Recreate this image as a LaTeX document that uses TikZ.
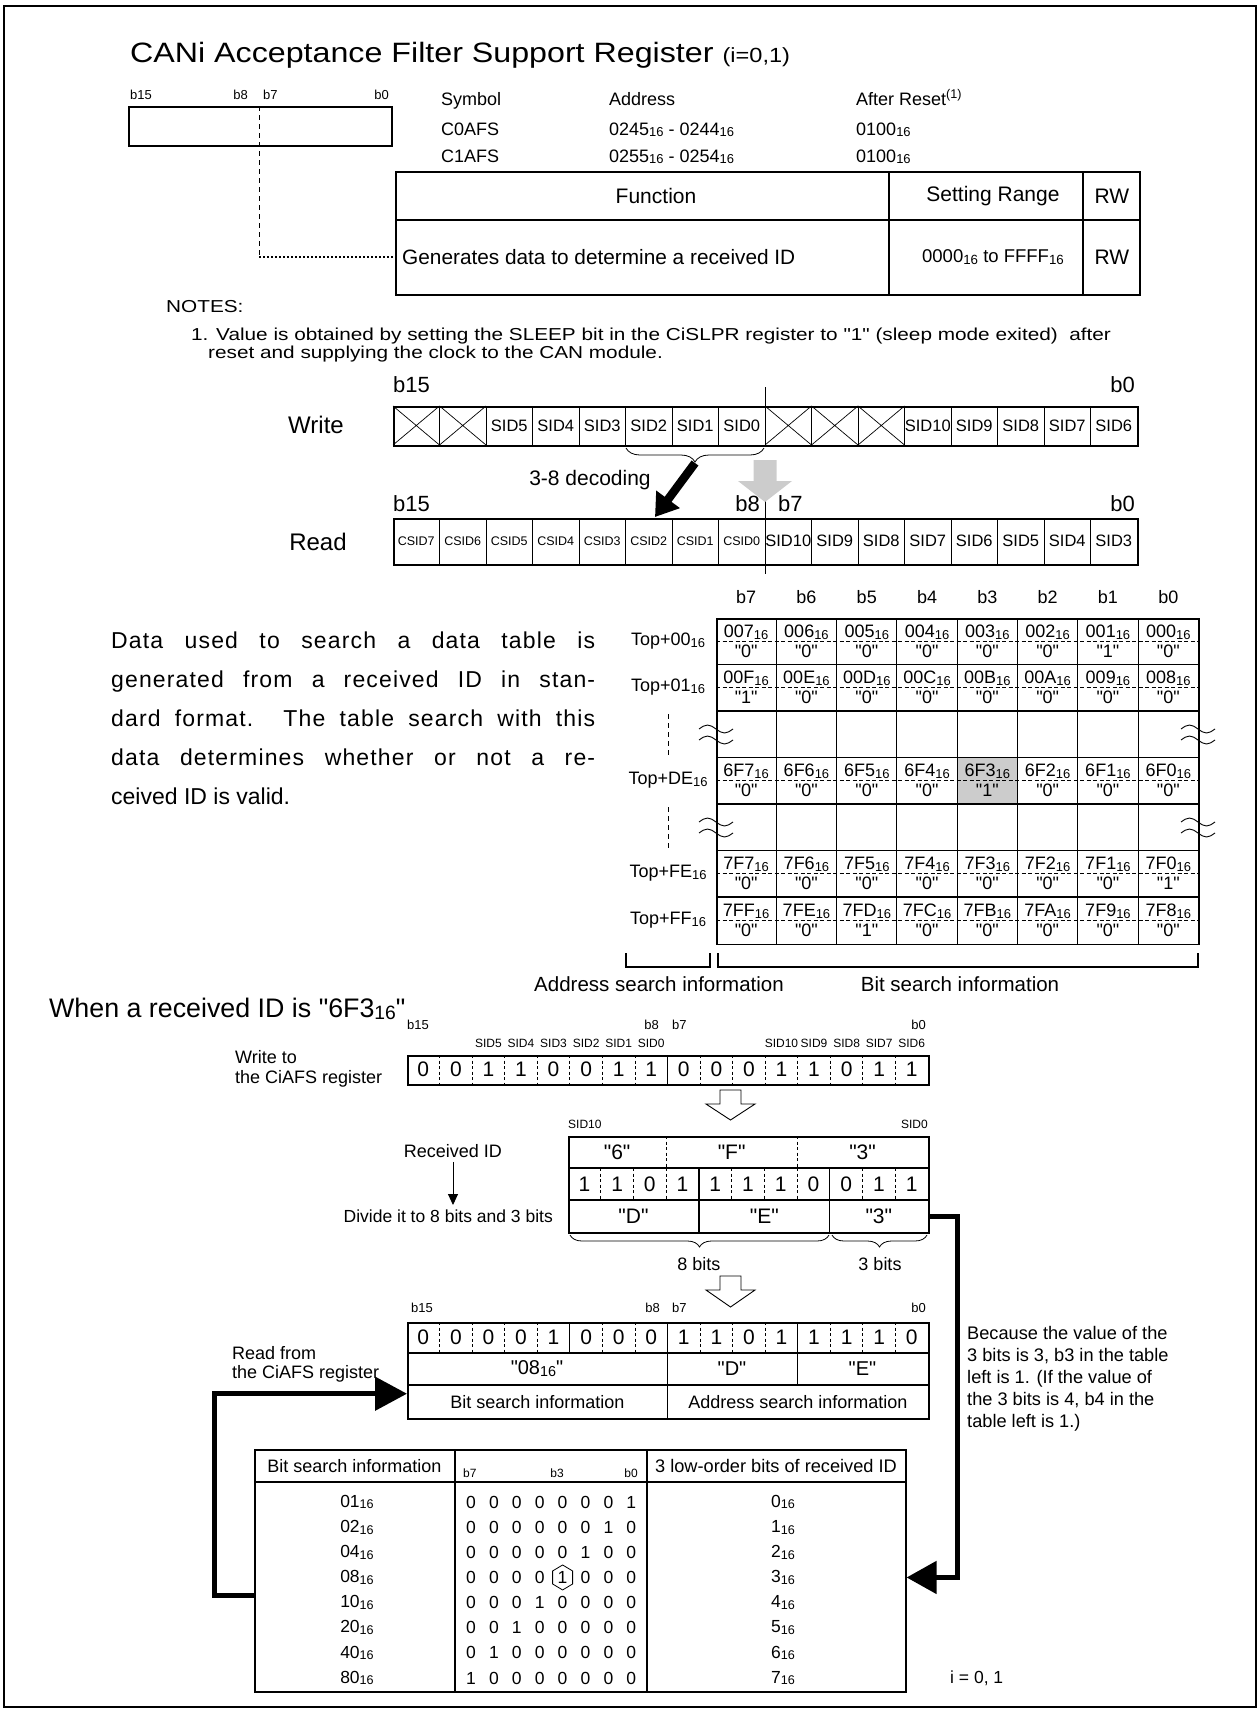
\documentclass[tikz,border=0pt]{standalone}
\usepackage{fontspec}
\usepackage{graphicx}
\setmainfont{Liberation Sans}[Ligatures=TeXOff]
\newfontfamily\titlefont{Liberation Sans}[FakeStretch=1.15,Ligatures=TeXOff]
\newfontfamily\widefont{Liberation Sans}[FakeStretch=1.2,Ligatures=TeXOff]
\usetikzlibrary{arrows.meta,decorations.pathreplacing,calc}
\newcommand{\sxt}{\raisebox{-0.1em}{\scalebox{0.72}{16}}}
\newcommand{\wv}[2]{\draw[line width=0.9pt] ({#1-17},#2) sin ({#1-8.5},{#2-4}) cos (#1,#2) sin ({#1+8.5},{#2+4}) cos ({#1+17},#2);}
\newcommand{\drow}[3]{%
  \foreach \h/\v [count=\c from 0] in {#3} {
    \node[fs=18] (#2h\c) at ({716+(\c+0.5)*60.3},{#1+14}) {\h\sxt};
    \node[fs=18] (#2v\c) at ({716+(\c+0.5)*60.3},{#1+33}) {"\v"};
  }
  \draw[line width=0.9pt,dash pattern=on 4pt off 2.5pt] (716,{#1+23.25}) -- (1198.4,{#1+23.25});
}
\tikzset{
  fs/.style={font=\fontsize{#1}{#1}\selectfont},
  wfs/.style={font=\widefont\fontsize{#1}{#1}\selectfont},
  regout/.style={draw,line width=1.8pt,anchor=north west},
  cellln/.style={line width=0.9pt},
  dln/.style={line width=0.8pt,dash pattern=on 3pt off 2.5pt},
  bigarrow/.style={line width=5pt,-{Triangle[length=32pt,width=33pt]}},
  openarrow/.style={draw,line width=0.9pt,fill=white},
}
\begin{document}
\begin{tikzpicture}[x=1pt,y=-1pt,every node/.style={inner sep=0pt}]
\useasboundingbox (0,0) rectangle (1260,1711);
\draw[line width=2.5pt] (4,6) rectangle (1256,1707);

% ---------- title ----------
\node[font=\titlefont\fontsize{28}{28}\selectfont,anchor=base west] (title) at (130,62) {CANi Acceptance Filter Support Register {\fontsize{20.5}{20}\selectfont(i=0,1)}};

% ---------- small register ----------
\node[regout,line width=1.5pt,minimum width=263pt,minimum height=39pt] (sreg) at (128,106) {};
\node[fs=13,anchor=base west] (sb15) at (130,99) {b15};
\node[fs=13,anchor=base east] (sb8) at (248,99) {b8};
\node[fs=13,anchor=base west] (sb7) at (263,99) {b7};
\node[fs=13,anchor=base east] (sb0) at (389,99) {b0};
\coordinate (smid) at (259,106);

% ---------- symbol / address ----------
\node[fs=18,anchor=base west] (hsym) at (441,105) {Symbol};
\node[fs=18,anchor=base west] (hadr) at (609,105) {Address};
\node[fs=18,anchor=base west] (hrst) at (856,105) {After Reset\textsuperscript{(1)}};
\node[fs=18,anchor=base west] (sy0) at (441,135) {C0AFS};
\node[fs=18,anchor=base west] (ad0) at (609,135) {0245\sxt{} - 0244\sxt};
\node[fs=18,anchor=base west] (rs0) at (856,135) {0100\sxt};
\node[fs=18,anchor=base west] (sy1) at (441,162) {C1AFS};
\node[fs=18,anchor=base west] (ad1) at (609,162) {0255\sxt{} - 0254\sxt};
\node[fs=18,anchor=base west] (rs1) at (856,162) {0100\sxt};

% ---------- function table ----------
\node[regout,minimum width=744pt,minimum height=123pt] (ftab) at (395,171) {};
\draw[line width=1.3pt] (395,220) -- (1139,220) (889,171) -- (889,294) (1083,171) -- (1083,294);
\node[fs=21] (ffun) at (656,196) {Function};
\node[fs=21] (fset) at (993,196) {Setting Range};
\node[fs=21] (frw1) at (1112,196) {RW};
\node[fs=20.8,anchor=west] (fgen) at (402,257) {Generates data to determine a received ID};
\node[fs=18.5] (frng) at (993,257) {0000\sxt{} to FFFF\sxt};
\node[fs=21] (frw2) at (1112,257) {RW};
\draw[line width=1pt,dash pattern=on 5pt off 4pt] (smid) -- (smid |- fgen);
\draw[line width=1.8pt,dash pattern=on 2pt off 2pt] (smid |- fgen) -- (ftab.west |- fgen);

% ---------- notes ----------
\node[wfs=17.3,anchor=west] (notes) at (166,307) {NOTES:};
\node[wfs=17.3,anchor=west] (n1) at (191,336) {1. Value is obtained by setting the SLEEP bit in the CiSLPR register to "1" (sleep mode exited)\ \ after};
\node[wfs=17.3,anchor=west] (n2) at (208,354) {reset and supplying the clock to the CAN module.};

% ---------- write / read registers ----------
\node[fs=24] (lw) at (316,425) {Write};
\node[fs=24] (lr) at (318,542) {Read};
\node[fs=22,anchor=base west] (wb15) at (393,392) {b15};
\node[fs=22,anchor=base east] (wb0) at (1135,392) {b0};
\node[regout,minimum width=744pt,minimum height=39pt] (wreg) at (393,406) {};
\foreach \i in {1,...,15} \draw[cellln] ({393+\i*46.5},406) -- ({393+\i*46.5},445);
\foreach \i in {0,1,8,9,10} \draw[line width=0.7pt] ({393+\i*46.5},406) -- ({393+(\i+1)*46.5},445) ({393+(\i+1)*46.5},406) -- ({393+\i*46.5},445);
\foreach \t [count=\i from 2] in {SID5,SID4,SID3,SID2,SID1,SID0}
  \node[fs=16.5] (wc\i) at ({393+(\i+0.5)*46.5},425.5) {\t};
\foreach \t [count=\i from 11] in {SID10,SID9,SID8,SID7,SID6}
  \node[fs=16.5] (wc\i) at ({393+(\i+0.5)*46.5},425.5) {\t};

\node[fs=22,anchor=base west] (rb15) at (393,511) {b15};
\node[fs=22,anchor=base east] (rb8) at (760,511) {b8};
\node[fs=22,anchor=base west] (rb7) at (778,511) {b7};
\node[fs=22,anchor=base east] (rb0) at (1135,511) {b0};
\node[regout,minimum width=744pt,minimum height=46pt] (rreg) at (393,518) {};
\foreach \i in {1,...,15} \draw[cellln] ({393+\i*46.5},518) -- ({393+\i*46.5},564);
\foreach \t [count=\i from 0] in {CSID7,CSID6,CSID5,CSID4,CSID3,CSID2,CSID1,CSID0}
  \node[fs=12.5] (rc\i) at ({393+(\i+0.5)*46.5},541) {\t};
\foreach \t [count=\i from 8] in {SID10,SID9,SID8,SID7,SID6,SID5,SID4,SID3}
  \node[fs=16.5] (rc\i) at ({393+(\i+0.5)*46.5},541) {\t};
\draw[cellln] (765,387) -- (wreg.north -| 765,0);
\draw[cellln] (765,497) -- (rreg.north -| 765,0);
\draw[cellln] (rreg.south -| 765,0) -- (765,574);

\draw[decorate,decoration={brace,amplitude=14pt},line width=0.8pt] (764,448) -- (626,448);
\coordinate (btip) at (695,463);
\coordinate (dectip) at (655,517);
\draw[line width=8.5pt,-{Triangle[length=22pt,width=28pt]}] (btip) -- (dectip);
\node[fs=21] (dec) at (590,480) {3-8 decoding};
\fill[gray!40] (753.5,460) -- (776.5,460) -- (776.5,481) -- (792,481) -- (765,502) -- (738,481) -- (753.5,481) -- cycle;

% ---------- left paragraph ----------
\node[anchor=north west,text width=484pt,align=justify,font=\fontsize{23}{39}\selectfont] (para) at (111,632)
 {\hyphenpenalty=10000 {\addfontfeature{LetterSpace=5}Data used to search a data table is\linebreak generated from a received ID in stan-\linebreak dard format. The table search with this\linebreak data determines whether or not a re-\linebreak}ceived ID is valid.};

% ---------- data table ----------
\foreach \t [count=\i from 0] in {b7,b6,b5,b4,b3,b2,b1,b0}
  \node[fs=18] (ch\i) at ({716+(\i+0.5)*60.3},597) {\t};
\fill[gray!40] ({716+4*60.3},757.5) rectangle ({716+5*60.3},804);
\node[regout,minimum width=482.4pt,minimum height=325.5pt] (dtab) at (716,618) {};
\foreach \i in {1,...,7} \draw[line width=1pt] ({716+\i*60.3},618) -- ({716+\i*60.3},943.5);
\foreach \j in {1,...,6} \draw[line width=1.4pt] (716,{618+\j*46.5}) -- (1198.4,{618+\j*46.5});
\drow{618}{da}{007/0,006/0,005/0,004/0,003/0,002/0,001/1,000/0}
\drow{664.5}{db}{00F/1,00E/0,00D/0,00C/0,00B/0,00A/0,009/0,008/0}
\drow{757.5}{dc}{6F7/0,6F6/0,6F5/0,6F4/0,6F3/1,6F2/0,6F1/0,6F0/0}
\drow{850.5}{dd}{7F7/0,7F6/0,7F5/0,7F4/0,7F3/0,7F2/0,7F1/0,7F0/1}
\drow{897}{de}{7FF/0,7FE/0,7FD/1,7FC/0,7FB/0,7FA/0,7F9/0,7F8/0}
\node[fs=18] (tl0) at (668,641) {Top+00\sxt};
\node[fs=18] (tl1) at (668,687.5) {Top+01\sxt};
\node[fs=18] (tl3) at (668,780.5) {Top+DE\sxt};
\node[fs=18] (tl5) at (668,873.5) {Top+FE\sxt};
\node[fs=18] (tl6) at (668,920) {Top+FF\sxt};
\draw[line width=0.9pt,dash pattern=on 5pt off 4pt] (668,714) -- (668,755) (668,807) -- (668,848);
\wv{716}{729}\wv{716}{740}\wv{1198}{729}\wv{1198}{740}
\wv{716}{822}\wv{716}{833}\wv{1198}{822}\wv{1198}{833}
\draw[line width=1.2pt] (626,953) -- (626,967) -- (710,967) -- (710,953);
\draw[line width=1.2pt] (718,953) -- (718,967) -- (1198,967) -- (1198,953);
\node[fs=20.5] (asi) at (659,984) {Address search information};
\node[fs=20.5] (bsi) at (960,984) {Bit search information};

% ---------- example ----------
\node[fs=26.8,anchor=west] (when) at (49,1009) {When a received ID is "6F3\sxt"};
\node[fs=13,anchor=base west] (ab15) at (407,1029) {b15};
\node[fs=13,anchor=base east] (ab8) at (659,1029) {b8};
\node[fs=13,anchor=base west] (ab7) at (672,1029) {b7};
\node[fs=13,anchor=base east] (ab0) at (926,1029) {b0};
\foreach \t [count=\i from 2] in {SID5,SID4,SID3,SID2,SID1,SID0}
  \node[fs=12] (sa\i) at ({407+(\i+0.5)*32.5625},1043) {\t};
\foreach \t [count=\i from 11] in {SID10,SID9,SID8,SID7,SID6}
  \node[fs=12] (sa\i) at ({407+(\i+0.5)*32.5625},1043) {\t};
\node[fs=18,anchor=west] (wt1) at (235,1057) {Write to};
\node[fs=18,anchor=west] (wt2) at (235,1079) {the CiAFS register};
\node[regout,line width=1.6pt,minimum width=521pt,minimum height=29pt] (reg1) at (407,1055) {};
\foreach \i in {1,...,7,9,10,...,15} \draw[dln] ({407+\i*32.5625},1055) -- ({407+\i*32.5625},1084);
\draw[line width=1.3pt] ({407+8*32.5625},1055) -- ({407+8*32.5625},1084);
\foreach \b [count=\i from 0] in {0,0,1,1,0,0,1,1,0,0,0,1,1,0,1,1}
  \node[fs=21] (ra\i) at ({407+(\i+0.5)*32.5625},1069.5) {\b};

\draw[openarrow] (720,1090) -- (741,1090) -- (741,1104) -- (755,1104) -- (730.5,1120) -- (706,1104) -- (720,1104) -- cycle;

\node[fs=12,anchor=base west] (sid10) at (568,1128) {SID10};
\node[fs=12,anchor=base east] (sid0) at (928,1128) {SID0};
\node[regout,line width=1.6pt,minimum width=360pt,minimum height=96pt] (rid) at (568,1136) {};
\draw[line width=1.2pt] (568,1168) -- (928,1168) (568,1200) -- (928,1200);
\draw[dln] ({568+3*32.727},1136) -- ({568+3*32.727},1168) ({568+7*32.727},1136) -- ({568+7*32.727},1168);
\foreach \i in {1,2,3,5,6,7,9,10} \draw[dln] ({568+\i*32.727},1168) -- ({568+\i*32.727},1200);
\draw[line width=1.2pt] ({568+4*32.727},1168) -- ({568+4*32.727},1232) ({568+8*32.727},1168) -- ({568+8*32.727},1232);
\node[fs=21] (h6) at ({568+1.5*32.727},1152) {"6"};
\node[fs=21] (hF) at ({568+5*32.727},1152) {"F"};
\node[fs=21] (h3) at ({568+9*32.727},1152) {"3"};
\foreach \b [count=\i from 0] in {1,1,0,1,1,1,1,0,0,1,1}
  \node[fs=21] (rb\i) at ({568+(\i+0.5)*32.727},1184) {\b};
\node[fs=21] (rid1) at ({568+2*32.727},1216) {"D"};
\node[fs=21] (rid2) at ({568+6*32.727},1216) {"E"};
\node[minimum width=98pt,minimum height=32pt,anchor=north east,fs=21] (rid3) at (928,1200) {"3"};
\node[fs=18] (ridl) at (453,1151) {Received ID};
\coordinate (divtop) at (453,1205);
\draw[line width=0.9pt,-{Triangle[length=11pt,width=10pt]},shorten <=4pt] (ridl.south) -- (divtop);
\node[fs=17.5,anchor=east] (divl) at (553,1216) {Divide it to 8 bits and 3 bits};
\draw[decorate,decoration={brace,amplitude=12pt},line width=0.8pt] (829,1235) -- (570,1235);
\draw[decorate,decoration={brace,amplitude=12pt},line width=0.8pt] (927,1235) -- (832,1235);
\node[fs=18] (b8l) at (699,1264) {8 bits};
\node[fs=18] (b3l) at (880,1264) {3 bits};

\draw[openarrow] (720,1276) -- (741,1276) -- (741,1290) -- (755,1290) -- (730.5,1307) -- (706,1290) -- (720,1290) -- cycle;

\node[fs=13,anchor=base west] (bb15) at (411,1312) {b15};
\node[fs=13,anchor=base east] (bb8) at (660,1312) {b8};
\node[fs=13,anchor=base west] (bb7) at (672,1312) {b7};
\node[fs=13,anchor=base east] (bb0) at (926,1312) {b0};
\node[regout,line width=1.6pt,minimum width=521pt,minimum height=96pt] (reg2) at (407,1322) {};
\draw[line width=1.2pt] (407,1353) -- (928,1353) (407,1385) -- (928,1385);
\foreach \i in {1,2,3,4,6,7,9,10,11,13,14,15} \draw[dln] ({407+\i*32.5625},1322) -- ({407+\i*32.5625},1353);
\draw[line width=1.2pt] ({407+5*32.5625},1322) -- ({407+5*32.5625},1353);
\draw[line width=1.2pt] ({407+8*32.5625},1322) -- ({407+8*32.5625},1418);
\draw[line width=1.2pt] ({407+12*32.5625},1322) -- ({407+12*32.5625},1385);
\foreach \b [count=\i from 0] in {0,0,0,0,1,0,0,0,1,1,0,1,1,1,1,0}
  \node[fs=21] (rc2\i) at ({407+(\i+0.5)*32.5625},1337.5) {\b};
\node[fs=20] (v08) at (537,1369) {"08\sxt"};
\node[fs=20] (vD) at (732,1369) {"D"};
\node[fs=20] (vE) at (862.5,1369) {"E"};
\node[minimum width=260.5pt,minimum height=33pt,anchor=north west,fs=18] (r2bit) at (407,1385) {Bit search information};
\node[minimum width=260.5pt,minimum height=33pt,anchor=north west,fs=18] (r2adr) at (667.5,1385) {Address search information};
\node[fs=18,anchor=west] (rf1) at (232,1353) {Read from};
\node[fs=18,anchor=west] (rf2) at (232,1374) {the CiAFS register};

\node[anchor=north west,align=left,font=\fontsize{18.2}{22}\selectfont] (note) at (967,1326)
 {Because the value of the\\3 bits is 3, b3 in the table\\left is 1. (If the value of\\the 3 bits is 4, b4 in the\\table left is 1.)};

% ---------- bottom table ----------
\node[regout,line width=1.6pt,minimum width=651pt,minimum height=242pt] (btab) at (254,1449) {};
\draw[line width=1.2pt] (455,1449) -- (455,1691) (647,1449) -- (647,1691);
\draw[line width=2pt] (254,1482) -- (905,1482);
\node[fs=18] (bh1) at (354.5,1466) {Bit search information};
\node[fs=12,anchor=base west] (bh2a) at (463,1477) {b7};
\node[fs=12,anchor=base] (bh2b) at (557,1477) {b3};
\node[fs=12,anchor=base east] (bh2c) at (638,1477) {b0};
\node[fs=18.2] (bh3) at (776,1466) {3 low-order bits of received ID};
\foreach \v [count=\k from 0] in {01,02,04,08,10,20,40,80}
  \node[fs=17.5] (bl\k) at (357,{1502+\k*25.15}) {\v\sxt};
\foreach \k in {0,...,7} {
  \node[fs=17.5] (br\k) at (783,{1502+\k*25.15}) {\k\sxt};
  \foreach \c in {0,...,7} {
    \pgfmathtruncatemacro\d{ifthenelse(\c==7-\k,1,0)}
    \node[fs=17.5] (bd\k\c) at ({471+\c*22.9},{1502+\k*25.15}) {\d};
  }
}
\draw[line width=0.8pt] ($(bd34.center)+(0,-12.5)$) -- ++(10,6) -- ++(0,13) -- ++(-10,6) -- ++(-10,-6) -- ++(0,-13) -- cycle;
\node[fs=17.5,anchor=west] (ieq) at (950,1678) {i = 0, 1};

% ---------- thick connectors ----------
\draw[bigarrow] ($(btab.west)+(0,25)$) -- ++(-40,0) |- ($(r2bit.west)+(0,-8)$);
\draw[line width=5pt,-{Triangle[length=30pt,width=32pt]}] (rid3.east) -- ++(29,0) |- (btab.east |- br3);
\end{tikzpicture}
\end{document}
